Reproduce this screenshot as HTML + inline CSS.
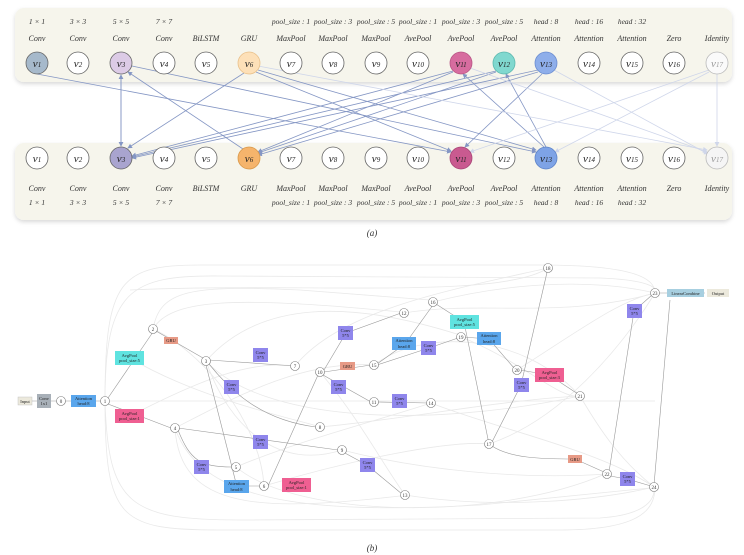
<!DOCTYPE html>
<html><head><meta charset="utf-8"><style>
html,body{margin:0;padding:0;background:#fff;}
svg{display:block;font-family:"Liberation Serif",serif;}
.it{font-style:italic;font-size:8px;fill:#333;}
.sz{font-size:7.5px;fill:#333;font-style:italic;}
.nl{font-size:11px;font-style:italic;fill:#222;}
.e{stroke:#8496c4;stroke-width:0.8;fill:none;marker-end:url(#ar);}
.el{stroke:#cfd6ea;stroke-width:0.8;fill:none;marker-end:url(#arl);}
.g{stroke:#e9e9e9;stroke-width:0.8;fill:none;}
.d{stroke:#999;stroke-width:0.6;fill:none;}
.c{fill:#fff;stroke:#777;stroke-width:0.6;}
.n{font-size:5px;fill:#333;text-anchor:middle;font-family:"Liberation Serif",serif;}
.b{font-size:4.5px;fill:#222;text-anchor:middle;}
</style></head><body>
<svg width="744" height="555" viewBox="0 0 744 555">
<defs>
<marker id="ar" markerWidth="6" markerHeight="6" refX="5" refY="3" orient="auto"><path d="M0,0 L6,3 L0,6z" fill="#8496c4"/></marker>
<marker id="arl" markerWidth="6" markerHeight="6" refX="5" refY="3" orient="auto"><path d="M0,0 L6,3 L0,6z" fill="#cfd6ea"/></marker>
<filter id="sh" x="-5%" y="-20%" width="110%" height="150%"><feDropShadow dx="0" dy="2" stdDeviation="2" flood-color="#000" flood-opacity="0.15"/></filter>
</defs>
<rect x="15" y="8" width="717" height="74" rx="9" fill="#f6f5ec" filter="url(#sh)"/>
<rect x="15" y="143" width="717" height="77" rx="9" fill="#f6f5ec" filter="url(#sh)"/>

<g text-anchor="middle">
<text class="sz" x="37" y="24">1 × 1</text><text class="sz" x="78" y="24">3 × 3</text><text class="sz" x="121" y="24">5 × 5</text><text class="sz" x="164" y="24">7 × 7</text>
<text class="sz" x="291" y="24">pool_size : 1</text><text class="sz" x="333" y="24">pool_size : 3</text><text class="sz" x="376" y="24">pool_size : 5</text><text class="sz" x="418" y="24">pool_size : 1</text><text class="sz" x="461" y="24">pool_size : 3</text><text class="sz" x="504" y="24">pool_size : 5</text><text class="sz" x="546" y="24">head : 8</text><text class="sz" x="589" y="24">head : 16</text><text class="sz" x="632" y="24">head : 32</text>
<text class="it" x="37" y="41">Conv</text><text class="it" x="78" y="41">Conv</text><text class="it" x="121" y="41">Conv</text><text class="it" x="164" y="41">Conv</text><text class="it" x="206" y="41">BiLSTM</text><text class="it" x="249" y="41">GRU</text><text class="it" x="291" y="41">MaxPool</text><text class="it" x="333" y="41">MaxPool</text><text class="it" x="376" y="41">MaxPool</text><text class="it" x="418" y="41">AvePool</text><text class="it" x="461" y="41">AvePool</text><text class="it" x="504" y="41">AvePool</text><text class="it" x="546" y="41">Attention</text><text class="it" x="589" y="41">Attention</text><text class="it" x="632" y="41">Attention</text><text class="it" x="674" y="41">Zero</text><text class="it" x="717" y="41">Identity</text>

<text class="it" x="37" y="191">Conv</text><text class="it" x="78" y="191">Conv</text><text class="it" x="121" y="191">Conv</text><text class="it" x="164" y="191">Conv</text><text class="it" x="206" y="191">BiLSTM</text><text class="it" x="249" y="191">GRU</text><text class="it" x="291" y="191">MaxPool</text><text class="it" x="333" y="191">MaxPool</text><text class="it" x="376" y="191">MaxPool</text><text class="it" x="418" y="191">AvePool</text><text class="it" x="461" y="191">AvePool</text><text class="it" x="504" y="191">AvePool</text><text class="it" x="546" y="191">Attention</text><text class="it" x="589" y="191">Attention</text><text class="it" x="632" y="191">Attention</text><text class="it" x="674" y="191">Zero</text><text class="it" x="717" y="191">Identity</text>
<text class="sz" x="37" y="205">1 × 1</text><text class="sz" x="78" y="205">3 × 3</text><text class="sz" x="121" y="205">5 × 5</text><text class="sz" x="164" y="205">7 × 7</text>
<text class="sz" x="291" y="205">pool_size : 1</text><text class="sz" x="333" y="205">pool_size : 3</text><text class="sz" x="376" y="205">pool_size : 5</text><text class="sz" x="418" y="205">pool_size : 1</text><text class="sz" x="461" y="205">pool_size : 3</text><text class="sz" x="504" y="205">pool_size : 5</text><text class="sz" x="546" y="205">head : 8</text><text class="sz" x="589" y="205">head : 16</text><text class="sz" x="632" y="205">head : 32</text>
<text x="372" y="236" font-size="9" font-style="italic" fill="#333">(a)</text>
<text x="372" y="551" font-size="9" font-style="italic" fill="#333">(b)</text>
</g>

<!-- top edges -->
<line class="e" x1="37" y1="74" x2="451" y2="152"/>
<line class="e" x1="121" y1="145" x2="121" y2="75"/>
<line class="e" x1="121" y1="75" x2="121" y2="146"/>
<line class="e" x1="244" y1="73" x2="128" y2="148"/>
<line class="e" x1="243" y1="149" x2="128" y2="72"/>
<line class="e" x1="132" y1="66" x2="536" y2="152"/>
<line class="e" x1="258" y1="70" x2="536" y2="150"/>
<line class="e" x1="256" y1="72" x2="451" y2="151"/>
<line class="e" x1="453" y1="71" x2="132" y2="156"/>
<line class="e" x1="496" y1="71" x2="132" y2="157"/>
<line class="e" x1="538" y1="70" x2="132" y2="158"/>
<line class="e" x1="453" y1="72" x2="258" y2="152"/>
<line class="e" x1="496" y1="72" x2="258" y2="153"/>
<line class="e" x1="538" y1="72" x2="258" y2="155"/>
<line class="e" x1="542" y1="74" x2="465" y2="147"/>
<line class="e" x1="544" y1="147" x2="463" y2="74"/>
<line class="e" x1="546" y1="147" x2="506" y2="74"/>
<line class="el" x1="709" y1="70" x2="470" y2="152"/>
<line class="el" x1="709" y1="72" x2="555" y2="152"/>
<line class="el" x1="554" y1="70" x2="708" y2="154"/>
<line class="el" x1="470" y1="68" x2="707" y2="152"/>
<line class="el" x1="258" y1="66" x2="707" y2="150"/>
<line class="el" x1="717" y1="74" x2="717" y2="146"/>

<!-- top nodes -->
<g stroke="#666" stroke-width="0.8">
<circle cx="37" cy="63" r="11" fill="#a6b9cb"/><circle cx="78" cy="63" r="11" fill="#fff"/><circle cx="121" cy="63" r="11" fill="#dccbe6"/><circle cx="164" cy="63" r="11" fill="#fff"/><circle cx="206" cy="63" r="11" fill="#fff"/><circle cx="249" cy="63" r="11" fill="#fde0b8" stroke="#e9c08a"/><circle cx="291" cy="63" r="11" fill="#fff"/><circle cx="333" cy="63" r="11" fill="#fff"/><circle cx="376" cy="63" r="11" fill="#fff"/><circle cx="418" cy="63" r="11" fill="#fff"/><circle cx="461" cy="63" r="11" fill="#d76c9f" stroke="#b85585"/><circle cx="504" cy="63" r="11" fill="#80d8cf" stroke="#5cb8ae"/><circle cx="546" cy="63" r="11" fill="#8eaeea" stroke="#6a8cd0"/><circle cx="589" cy="63" r="11" fill="#fff"/><circle cx="632" cy="63" r="11" fill="#fff"/><circle cx="674" cy="63" r="11" fill="#fff"/><circle cx="717" cy="63" r="11" fill="#fafafa" stroke="#bbb"/>
<circle cx="37" cy="158" r="11" fill="#fff"/><circle cx="78" cy="158" r="11" fill="#fff"/><circle cx="121" cy="158" r="11" fill="#a9a4cf"/><circle cx="164" cy="158" r="11" fill="#fff"/><circle cx="206" cy="158" r="11" fill="#fff"/><circle cx="249" cy="158" r="11" fill="#f5b46c" stroke="#d99848"/><circle cx="291" cy="158" r="11" fill="#fff"/><circle cx="333" cy="158" r="11" fill="#fff"/><circle cx="376" cy="158" r="11" fill="#fff"/><circle cx="418" cy="158" r="11" fill="#fff"/><circle cx="461" cy="158" r="11" fill="#c95a90" stroke="#a84576"/><circle cx="504" cy="158" r="11" fill="#fff"/><circle cx="546" cy="158" r="11" fill="#7ea3e6" stroke="#5d83c8"/><circle cx="589" cy="158" r="11" fill="#fff"/><circle cx="632" cy="158" r="11" fill="#fff"/><circle cx="674" cy="158" r="11" fill="#fff"/><circle cx="717" cy="158" r="11" fill="#f5f5f5" stroke="#bbb"/>
</g>
<g class="nl" text-anchor="middle">
<text x="37" y="67">v<tspan font-size="7">1</tspan></text><text x="78" y="67">v<tspan font-size="7">2</tspan></text><text x="121" y="67">v<tspan font-size="7">3</tspan></text><text x="164" y="67">v<tspan font-size="7">4</tspan></text><text x="206" y="67">v<tspan font-size="7">5</tspan></text><text x="249" y="67">v<tspan font-size="7">6</tspan></text><text x="291" y="67">v<tspan font-size="7">7</tspan></text><text x="333" y="67">v<tspan font-size="7">8</tspan></text><text x="376" y="67">v<tspan font-size="7">9</tspan></text><text x="418" y="67">v<tspan font-size="7">10</tspan></text><text x="461" y="67">v<tspan font-size="7">11</tspan></text><text x="504" y="67">v<tspan font-size="7">12</tspan></text><text x="546" y="67">v<tspan font-size="7">13</tspan></text><text x="589" y="67">v<tspan font-size="7">14</tspan></text><text x="632" y="67">v<tspan font-size="7">15</tspan></text><text x="674" y="67">v<tspan font-size="7">16</tspan></text><text x="717" y="67" fill="#999">v<tspan font-size="7">17</tspan></text>
<text x="37" y="162">v<tspan font-size="7">1</tspan></text><text x="78" y="162">v<tspan font-size="7">2</tspan></text><text x="121" y="162">v<tspan font-size="7">3</tspan></text><text x="164" y="162">v<tspan font-size="7">4</tspan></text><text x="206" y="162">v<tspan font-size="7">5</tspan></text><text x="249" y="162">v<tspan font-size="7">6</tspan></text><text x="291" y="162">v<tspan font-size="7">7</tspan></text><text x="333" y="162">v<tspan font-size="7">8</tspan></text><text x="376" y="162">v<tspan font-size="7">9</tspan></text><text x="418" y="162">v<tspan font-size="7">10</tspan></text><text x="461" y="162">v<tspan font-size="7">11</tspan></text><text x="504" y="162">v<tspan font-size="7">12</tspan></text><text x="546" y="162">v<tspan font-size="7">13</tspan></text><text x="589" y="162">v<tspan font-size="7">14</tspan></text><text x="632" y="162">v<tspan font-size="7">15</tspan></text><text x="674" y="162">v<tspan font-size="7">16</tspan></text><text x="717" y="162" fill="#999">v<tspan font-size="7">17</tspan></text>
</g>

<!-- bottom: background curves -->
<g class="g">
<path d="M105,401 C105,280 120,265 200,265 L540,265 C640,265 655,280 655,293"/>
<path d="M105,401 C105,290 130,275 220,276 L600,278 C650,280 655,288 655,290"/>
<path d="M105,401 C105,520 120,530 220,530 L560,530 C640,530 655,510 655,487"/>
<path d="M105,401 C108,505 130,520 240,520 L600,518 C645,515 654,500 654,490"/>
<path d="M153,329 C160,290 190,285 300,290 L430,300"/>
<path d="M153,329 C170,300 230,295 400,312"/>
<path d="M175,428 C180,510 260,512 400,496"/>
<path d="M175,428 C200,500 300,515 480,505 L650,488"/>
<path d="M206,361 C260,300 350,300 460,335"/>
<path d="M206,361 C260,420 420,430 580,396"/>
<path d="M236,467 C300,520 500,520 605,474"/>
<path d="M264,486 C350,460 450,440 488,444"/>
<path d="M295,366 C340,310 450,290 548,268"/>
<path d="M320,427 C400,420 500,400 580,396"/>
<path d="M342,450 C420,470 520,480 607,474"/>
<path d="M374,365 C420,330 520,330 580,396"/>
<path d="M404,313 C480,300 560,320 655,293"/>
<path d="M431,403 C500,430 600,450 654,487"/>
<path d="M433,302 C520,280 600,280 655,293"/>
<path d="M517,370 C580,330 620,300 655,293"/>
<path d="M405,495 C500,510 600,500 654,487"/>
<path d="M130,358 C200,400 300,420 320,427"/>
<path d="M130,416 C200,380 250,360 295,366"/>
<path d="M489,444 C560,420 620,350 655,293"/>
<path d="M206,361 C230,430 280,470 342,450"/>
<path d="M153,329 C200,350 260,420 264,486"/>
<path d="M175,428 C230,400 300,360 374,365"/>
<path d="M236,467 C300,440 380,420 431,403"/>
<path d="M320,372 C360,420 380,460 405,495"/>
<path d="M461,337 C520,360 560,400 580,396"/>
<path d="M580,396 C600,430 620,460 654,487"/>
<path d="M105,401 L655,401"/>
<path d="M130,290 C300,282 500,300 548,268"/>
</g>
<!-- bottom: main edges -->
<g class="d">
<path d="M30,401 H38 M50,401 H57 M65,401 H71 M95,401 H101"/>
<path d="M108,398 L153,332"/>
<path d="M108,404 L171,428"/>
<path d="M156,331 L203,358"/>
<path d="M209,360 L295,366"/>
<path d="M209,364 C230,390 260,420 316,427"/>
<path d="M206,365 L236,483"/>
<path d="M178,430 C190,460 200,467 232,467"/>
<path d="M178,428 L338,450"/>
<path d="M240,486 L260,486"/>
<path d="M268,486 L318,375"/>
<path d="M324,370 L346,333 L401,313"/>
<path d="M324,372 L371,365"/>
<path d="M323,375 L371,402"/>
<path d="M377,364 L405,344 L433,305"/>
<path d="M377,365 L429,348 L458,338"/>
<path d="M377,402 L428,403"/>
<path d="M343,452 L367,465 L402,494"/>
<path d="M436,304 L464,322 L489,444"/>
<path d="M463,337 L489,339 L514,368"/>
<path d="M492,442 L521,385 L548,268"/>
<path d="M520,370 L549,375 L578,394"/>
<path d="M492,446 C510,458 540,459 575,459 L604,472"/>
<path d="M609,472 L634,311 L652,295"/>
<path d="M610,476 L627,479 L651,486"/>
<path d="M654,485 L670,300"/>
<path d="M659,293 H705"/>
</g>
<!-- bottom: circle nodes -->
<g>
<circle class="c" cx="61" cy="401" r="4.5"/><circle class="c" cx="105" cy="401" r="4.5"/><circle class="c" cx="153" cy="329" r="4.5"/><circle class="c" cx="206" cy="361" r="4.5"/><circle class="c" cx="175" cy="428" r="4.5"/><circle class="c" cx="236" cy="467" r="4.5"/><circle class="c" cx="264" cy="486" r="4.5"/><circle class="c" cx="295" cy="366" r="4.5"/><circle class="c" cx="320" cy="427" r="4.5"/><circle class="c" cx="342" cy="450" r="4.5"/><circle class="c" cx="320" cy="372" r="4.5"/><circle class="c" cx="374" cy="402" r="4.5"/><circle class="c" cx="404" cy="313" r="4.5"/><circle class="c" cx="405" cy="495" r="4.5"/><circle class="c" cx="431" cy="403" r="4.5"/><circle class="c" cx="374" cy="365" r="4.5"/><circle class="c" cx="433" cy="302" r="4.5"/><circle class="c" cx="489" cy="444" r="4.5"/><circle class="c" cx="548" cy="268" r="4.5"/><circle class="c" cx="461" cy="337" r="4.5"/><circle class="c" cx="517" cy="370" r="4.5"/><circle class="c" cx="580" cy="396" r="4.5"/><circle class="c" cx="607" cy="474" r="4.5"/><circle class="c" cx="655" cy="293" r="4.5"/><circle class="c" cx="654" cy="487" r="4.5"/>
<text class="n" x="61" y="403">0</text><text class="n" x="105" y="403">1</text><text class="n" x="153" y="331">2</text><text class="n" x="206" y="363">3</text><text class="n" x="175" y="430">4</text><text class="n" x="236" y="469">5</text><text class="n" x="264" y="488">6</text><text class="n" x="295" y="368">7</text><text class="n" x="320" y="429">8</text><text class="n" x="342" y="452">9</text><text class="n" x="320" y="374">10</text><text class="n" x="374" y="404">11</text><text class="n" x="404" y="315">12</text><text class="n" x="405" y="497">13</text><text class="n" x="431" y="405">14</text><text class="n" x="374" y="367">15</text><text class="n" x="433" y="304">16</text><text class="n" x="489" y="446">17</text><text class="n" x="548" y="270">18</text><text class="n" x="461" y="339">19</text><text class="n" x="517" y="372">20</text><text class="n" x="580" y="398">21</text><text class="n" x="607" y="476">22</text><text class="n" x="655" y="295">23</text><text class="n" x="654" y="489">24</text>
</g>
<!-- bottom: op boxes -->
<g>
<rect x="18" y="397" width="14" height="8" fill="#ece9dc" stroke="#bbb" stroke-width="0.4"/><text class="b" x="25" y="403">Input</text>
<rect x="37" y="394" width="14" height="14" fill="#a8b0b8"/><text class="b" x="44" y="400">Conv</text><text class="b" x="44" y="405">1x1</text>
<rect x="71" y="395" width="25" height="12" fill="#5aa6ec"/><text class="b" x="83.5" y="400">Attention</text><text class="b" x="83.5" y="405">head:8</text>
<rect x="115" y="351" width="29" height="14" fill="#5fe3e0"/><text class="b" x="129.5" y="357">AvgPool</text><text class="b" x="129.5" y="362">pool_size:5</text>
<rect x="115" y="409" width="29" height="14" fill="#ef5f92"/><text class="b" x="129.5" y="415">AvgPool</text><text class="b" x="129.5" y="420">pool_size:1</text>
<rect x="164" y="337" width="14" height="7" fill="#e79a86"/><text class="b" x="171" y="342">GRU</text>
<rect x="253" y="348" width="15" height="14" fill="#8f86ec"/><text class="b" x="260.5" y="354">Conv</text><text class="b" x="260.5" y="359">5*5</text>
<rect x="224" y="380" width="15" height="14" fill="#8f86ec"/><text class="b" x="231.5" y="386">Conv</text><text class="b" x="231.5" y="391">5*5</text>
<rect x="253" y="435" width="15" height="14" fill="#8f86ec"/><text class="b" x="260.5" y="441">Conv</text><text class="b" x="260.5" y="446">5*5</text>
<rect x="194" y="460" width="15" height="14" fill="#8f86ec"/><text class="b" x="201.5" y="466">Conv</text><text class="b" x="201.5" y="471">5*5</text>
<rect x="224" y="480" width="25" height="13" fill="#5aa6ec"/><text class="b" x="236.5" y="485">Attention</text><text class="b" x="236.5" y="491">head:8</text>
<rect x="282" y="478" width="29" height="14" fill="#ef5f92"/><text class="b" x="296.5" y="484">AvgPool</text><text class="b" x="296.5" y="489">pool_size:1</text>
<rect x="338" y="326" width="15" height="14" fill="#8f86ec"/><text class="b" x="345.5" y="332">Conv</text><text class="b" x="345.5" y="337">5*5</text>
<rect x="340" y="362" width="15" height="8" fill="#e79a86"/><text class="b" x="347.5" y="368">GRU</text>
<rect x="331" y="380" width="15" height="14" fill="#8f86ec"/><text class="b" x="338.5" y="386">Conv</text><text class="b" x="338.5" y="391">5*5</text>
<rect x="360" y="458" width="15" height="14" fill="#8f86ec"/><text class="b" x="367.5" y="464">Conv</text><text class="b" x="367.5" y="469">5*5</text>
<rect x="392" y="394" width="15" height="14" fill="#8f86ec"/><text class="b" x="399.5" y="400">Conv</text><text class="b" x="399.5" y="405">5*5</text>
<rect x="392" y="337" width="24" height="13" fill="#5aa6ec"/><text class="b" x="404" y="342">Attention</text><text class="b" x="404" y="348">head:8</text>
<rect x="421" y="341" width="15" height="14" fill="#8f86ec"/><text class="b" x="428.5" y="347">Conv</text><text class="b" x="428.5" y="352">5*5</text>
<rect x="450" y="315" width="29" height="14" fill="#5fe3e0"/><text class="b" x="464.5" y="321">AvgPool</text><text class="b" x="464.5" y="326">pool_size:5</text>
<rect x="477" y="332" width="24" height="13" fill="#5aa6ec"/><text class="b" x="489" y="337">Attention</text><text class="b" x="489" y="343">head:8</text>
<rect x="514" y="378" width="15" height="14" fill="#8f86ec"/><text class="b" x="521.5" y="384">Conv</text><text class="b" x="521.5" y="389">5*5</text>
<rect x="535" y="368" width="29" height="14" fill="#ef5f92"/><text class="b" x="549.5" y="374">AvgPool</text><text class="b" x="549.5" y="379">pool_size:3</text>
<rect x="568" y="455" width="14" height="8" fill="#e79a86"/><text class="b" x="575" y="461">GRU</text>
<rect x="620" y="472" width="15" height="14" fill="#8f86ec"/><text class="b" x="627.5" y="478">Conv</text><text class="b" x="627.5" y="483">5*5</text>
<rect x="627" y="304" width="15" height="14" fill="#8f86ec"/><text class="b" x="634.5" y="310">Conv</text><text class="b" x="634.5" y="315">5*5</text>
<rect x="667" y="289" width="37" height="8" fill="#a7cfe0"/><text class="b" x="685.5" y="295">LinearCombine</text>
<rect x="707" y="289" width="22" height="8" fill="#ece9dc"/><text class="b" x="718" y="295">Output</text>
</g>
</svg>
</body></html>
